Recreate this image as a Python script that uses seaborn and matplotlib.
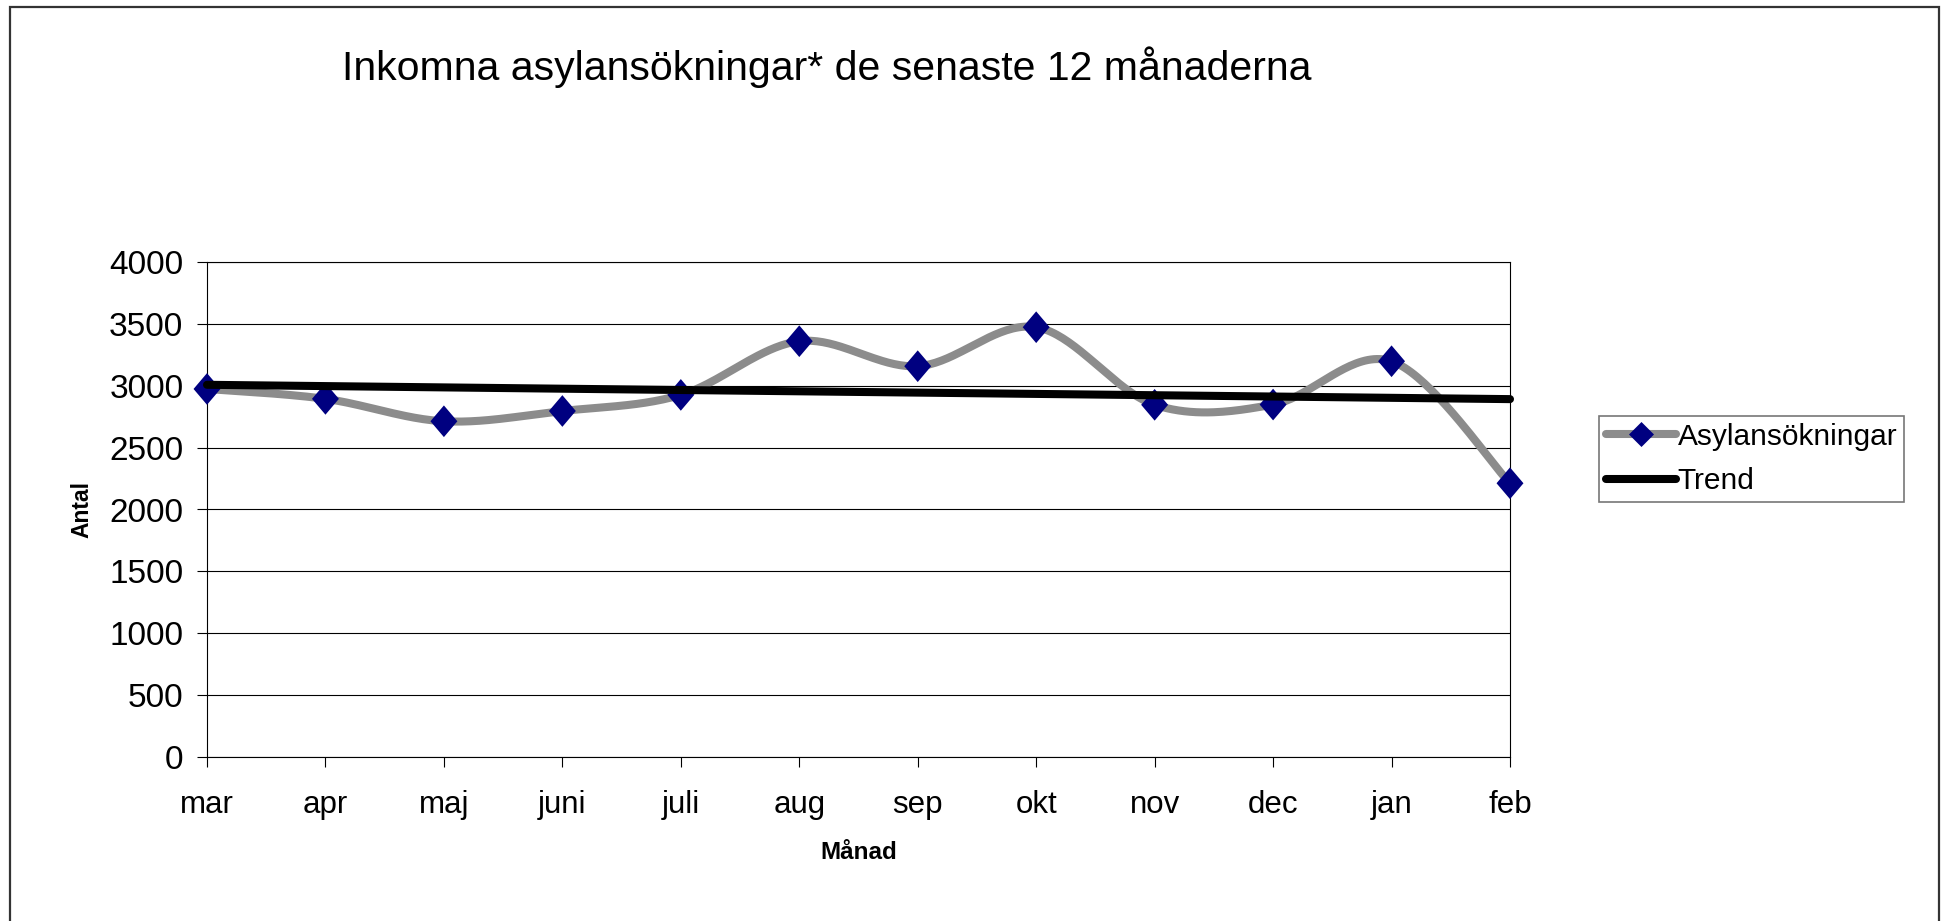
import numpy as np
import pandas as pd
import matplotlib
matplotlib.use("Agg")
import matplotlib.pyplot as plt
import seaborn as sns
from matplotlib.lines import Line2D
from matplotlib.path import Path

# ---- data ----
months = ["mar", "apr", "maj", "juni", "juli", "aug", "sep", "okt", "nov", "dec", "jan", "feb"]
applications = [2974, 2894, 2713, 2796, 2926, 3360, 3158, 3473, 2846, 2848, 3198, 2212]
y_ticks = [0, 500, 1000, 1500, 2000, 2500, 3000, 3500, 4000]
title = "Inkomna asylansökningar* de senaste 12 månaderna"
series_label = "Asylansökningar"
trend_label = "Trend"
x_label = "Månad"
y_label = "Antal"

sns.set_theme(style="white")
plt.rcParams["font.family"] = ["Liberation Sans", "DejaVu Sans"]

W, H = 1945, 921
fig = plt.figure(figsize=(W / 100, H / 100), dpi=100)
fig.patch.set_facecolor("white")
L, R, T, B = 207, 1510, 262, 757
ax = fig.add_axes([L / W, 1 - B / H, (R - L) / W, (B - T) / H])

x = np.arange(len(months))
y = np.array(applications, dtype=float)


def smooth_curve(xs, ys, n=40):
    P = np.column_stack([xs, ys]).astype(float)
    Pe = np.vstack([P[0], P, P[-1]])
    parts = []
    for i in range(len(P) - 1):
        p0, p1, p2, p3 = Pe[i], Pe[i + 1], Pe[i + 2], Pe[i + 3]
        c1 = p1 + (p2 - p0) / 6.0
        c2 = p2 - (p3 - p1) / 6.0
        t = np.linspace(0, 1, n, endpoint=(i == len(P) - 2))[:, None]
        pts = (1 - t) ** 3 * p1 + 3 * (1 - t) ** 2 * t * c1 + 3 * (1 - t) * t ** 2 * c2 + t ** 3 * p2
        parts.append(pts)
    return np.vstack(parts)


curve = smooth_curve(x, y)
curve_df = pd.DataFrame({"x": curve[:, 0], "y": curve[:, 1]})

gray = "#8c8c8c"
navy = "#000080"

sns.lineplot(data=curve_df, x="x", y="y", sort=False, estimator=None, ax=ax,
             color=gray, linewidth=5.8, zorder=2, clip_on=False)

diamond = Path([(0, 1), (0.85, 0), (0, -1), (-0.85, 0), (0, 1)], closed=True)
pts_df = pd.DataFrame({"month": x, "value": y})
sns.scatterplot(data=pts_df, x="month", y="value", ax=ax, marker=diamond, s=520,
                color=navy, edgecolor="none", linewidth=0, zorder=3, clip_on=False)

coef = np.polyfit(x, y, 1)
trend = np.polyval(coef, x)
trend_df = pd.DataFrame({"month": x, "trend": trend})
sns.lineplot(data=trend_df, x="month", y="trend", ax=ax, color="black",
             linewidth=5.8, zorder=4, clip_on=False)

ax.set_xlim(0, len(months) - 1)
ax.set_ylim(0, 4000)
ax.set_yticks(y_ticks)
ax.set_yticklabels([str(v) for v in y_ticks])
ax.set_xticks(x)
ax.set_xticklabels(months)
ax.grid(axis="y", color="black", linewidth=0.8)
ax.grid(axis="x", visible=False)
ax.set_axisbelow(True)
for s in ax.spines.values():
    s.set_color("black")
    s.set_linewidth(0.8)
ax.tick_params(axis="both", direction="out", length=7, width=0.8, color="black",
               labelcolor="black")
ax.tick_params(axis="y", pad=10, labelsize=24)
ax.tick_params(axis="x", pad=16.5, labelsize=22.5)
ax.tick_params(left=True, bottom=True)

ax.set_xlabel(x_label, fontsize=17.5, fontweight="bold", color="black")
ax.set_ylabel(y_label, fontsize=16.5, fontweight="bold", color="black")
ax.xaxis.label.set_va("center")
ax.yaxis.label.set_va("center")
ax.xaxis.set_label_coords(0.5, (B - 852) / (B - T))
ax.yaxis.set_label_coords((82 - L) / (R - L), 0.5)

fig.text(827 / W, 1 - 80 / H, title, ha="center", va="baseline", fontsize=29.5, color="black")

handles = [
    Line2D([], [], color=gray, linewidth=5.8,
           marker=Path([(0, 1), (1, 0), (0, -1), (-1, 0), (0, 1)], closed=True),
           markersize=18, markerfacecolor=navy, markeredgecolor=navy, markeredgewidth=0),
    Line2D([], [], color="black", linewidth=5.8, solid_capstyle="round"),
]
leg = fig.legend(handles, [series_label, trend_label], loc="center left",
                 bbox_to_anchor=(1599 / W, 1 - 459 / H), bbox_transform=fig.transFigure,
                 fontsize=21.5, frameon=True, fancybox=False, shadow=False,
                 handlelength=2.35, handletextpad=0.06, borderpad=0.22, labelspacing=0.55,
                 borderaxespad=0, numpoints=1)
leg.get_frame().set_edgecolor("#555555")
leg.get_frame().set_linewidth(1.2)
for t in leg.get_texts():
    t.set_color("black")

x0, x1, ytop = 10 / W, 1939 / W, 1 - 7 / H
fig.add_artist(Line2D([x0, x0, x1, x1], [-0.05, ytop, ytop, -0.05], transform=fig.transFigure,
                      color="#333333", linewidth=1.6, solid_joinstyle="miter"))

fig.savefig("out.png", dpi=100, facecolor="white")
